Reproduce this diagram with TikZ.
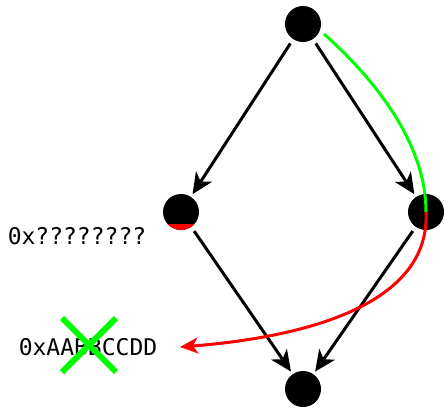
\documentclass[tikz,border=0pt]{standalone}
\usepackage{fontspec}
\setmonofont{DejaVu Sans Mono}
\usetikzlibrary{arrows.meta,positioning}
\begin{document}
\begin{tikzpicture}[x=1pt,y=-1pt,
  vertex/.style={fill,circle,inner sep=0pt,minimum size=36pt,black},
  edge/.style={line width=3pt,-{Stealth[length=21pt,width=19pt,inset=6pt]},shorten <=5pt,shorten >=3pt},
  val/.style={font=\ttfamily\fontsize{23}{28}\selectfont,inner sep=0pt}]
  \useasboundingbox (0,0) rectangle (444,407);
  \node[vertex] (top) at (303,24){};
  \node[vertex] (left) at (181,212){};
  \node[vertex] (right) at (426,212){};
  \node[vertex] (bottom) at (303,389){};
  \begin{scope} % red bottom of left vertex
    \clip (181,212) circle (18pt);
    \fill[red] (160,224) rectangle (202,232);
  \end{scope}
  \node[val] (guess) at (77,236){0x????????};
  \node[val] (old) at (88,347){0xAABBCCDD};
  \coordinate (tip) at (180,347);
  \draw[edge] (top) -- (left);
  \draw[edge] (top) -- (right);
  \draw[edge] (left) -- (bottom);
  \draw[edge] (right) -- (bottom);
  \draw[green,line width=3pt] (324,34) .. controls (370,75) and (426,140) .. (right.center);
  \draw[red,line width=3pt,-{Stealth[length=18pt,width=16pt,inset=5pt]}] (right.center) .. controls (430,295) and (330,335) .. (tip);
  \draw[green,line width=6pt] (62,318) -- (116,372); % cross out
  \draw[green,line width=6pt] (116,318) -- (62,372);
\end{tikzpicture}
\end{document}
